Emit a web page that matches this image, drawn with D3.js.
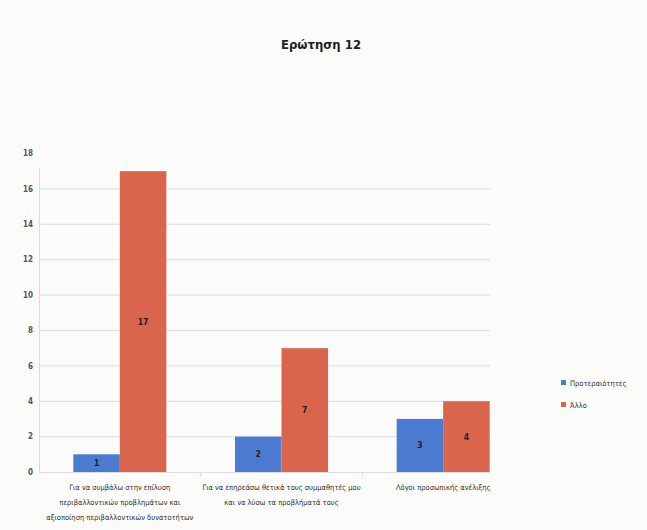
<!DOCTYPE html>
<html><head><meta charset="utf-8">
<script src="https://cdn.jsdelivr.net/npm/d3@7/dist/d3.min.js"></script>
<style>
html,body{margin:0;padding:0;background:#fbfbfa;}
svg{display:block;}
</style></head>
<body>
<script>
const title = "Ερώτηση 12";
const categories = [
  ["Για να συμβάλω στην επίλυση", "περιβαλλοντικών προβλημάτων και", "αξιοποίηση περιβαλλοντικών δυνατοτήτων"],
  ["Για να επηρεάσω θετικά τους συμμαθητές μου", "και να λύσω τα προβλήματά τους"],
  ["Λόγοι προσωπικής ανέλιξης"]
];
const seriesNames = ["Προτεραιότητες", "Άλλο"];
const seriesA = [1, 2, 3];
const seriesB = [17, 7, 4];
const yTicks = [0, 2, 4, 6, 8, 10, 12, 14, 16, 18];
const colors = ["#4a7bd0", "#d8654c"];

const W = 647, H = 530;
const svg = d3.select("body").append("svg").attr("width", W).attr("height", H);
svg.append("rect").attr("width", W).attr("height", H).attr("fill", "#fbfbfa");

const font = "'DejaVu Sans Condensed','Liberation Sans Narrow','Liberation Sans',sans-serif";
const x0 = d3.scaleBand().domain(d3.range(categories.length)).range([39, 524]).padding(0);
const x1 = d3.scaleBand().domain([0, 1]).range([0, 93]);
const y = d3.scaleLinear().domain([0, 18]).range([472, 153.5]);

// gridlines
svg.append("g").selectAll("line").data(yTicks.filter(t => t > 0 && t < 18)).join("line")
  .attr("x1", 40).attr("x2", 490).attr("y1", d => y(d)).attr("y2", d => y(d))
  .attr("stroke", "#d6ddeb").attr("stroke-width", 1);

// y axis labels
svg.append("g").selectAll("text").data(yTicks).join("text")
  .attr("x", 33).attr("y", d => y(d)).attr("dy", "0.35em").attr("text-anchor", "end")
  .attr("font-family", font).attr("font-size", 8).attr("font-weight", "bold").attr("fill", "#555")
  .text(d => d);

// axis lines
svg.append("line").attr("x1", 39.5).attr("x2", 39.5).attr("y1", 168).attr("y2", 472)
  .attr("stroke", "#d6ddeb");
svg.append("line").attr("x1", 39).attr("x2", 490).attr("y1", 472.5).attr("y2", 472.5)
  .attr("stroke", "#d6ddeb");
svg.append("g").selectAll("line").data(d3.range(1, categories.length)).join("line")
  .attr("x1", d => 39 + d * x0.step()).attr("x2", d => 39 + d * x0.step())
  .attr("y1", 472).attr("y2", 477).attr("stroke", "#d6ddeb");

// bars
const groups = svg.append("g").selectAll("g").data(categories.map((c, i) => i)).join("g")
  .attr("transform", i => `translate(${x0(i) + (x0.bandwidth() - 93) / 2},0)`);
groups.each(function(i) {
  const g = d3.select(this);
  const vals = [seriesA[i], seriesB[i]];
  vals.forEach((v, s) => {
    g.append("rect").attr("x", x1(s)).attr("width", x1.bandwidth())
      .attr("y", y(v)).attr("height", y(0) - y(v)).attr("fill", colors[s]);
    g.append("text").attr("x", x1(s) + x1.bandwidth() / 2).attr("y", (y(v) + y(0)) / 2)
      .attr("dy", "0.35em").attr("text-anchor", "middle")
      .attr("font-family", font).attr("font-size", 8.5).attr("font-weight", "bold").attr("fill", "#222")
      .text(v);
  });
});

// category labels
categories.forEach((lines, i) => {
  const cx = x0(i) + x0.bandwidth() / 2;
  lines.forEach((ln, k) => {
    svg.append("text").attr("x", cx).attr("y", 490 + k * 15).attr("text-anchor", "middle")
      .attr("font-family", font).attr("font-size", 7.5).attr("fill", "#333").text(ln);
  });
});

// title
svg.append("text").attr("x", 321).attr("y", 49).attr("text-anchor", "middle")
  .attr("font-family", font).attr("font-size", 13).attr("font-weight", "bold").attr("fill", "#222")
  .text(title);

// legend
seriesNames.forEach((n, s) => {
  const ly = 383 + s * 22;
  svg.append("rect").attr("x", 561).attr("y", ly - 3).attr("width", 5).attr("height", 5).attr("fill", colors[s]);
  svg.append("text").attr("x", 570).attr("y", ly).attr("dy", "0.35em")
    .attr("font-family", font).attr("font-size", 7.5).attr("fill", "#333").text(n);
});
</script>
</body></html>
